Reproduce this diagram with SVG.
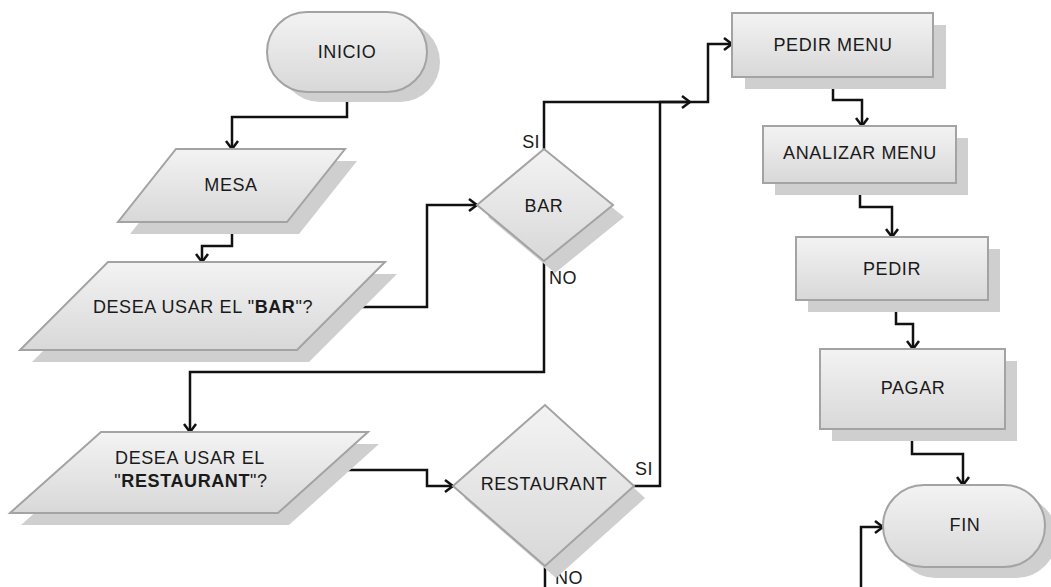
<svg xmlns="http://www.w3.org/2000/svg" width="1051" height="587" viewBox="0 0 1051 587">
  <style>
    .shape { fill: url(#g); stroke: #a3a3a3; stroke-width: 2; }
    .shadow { fill: #cfcfcf; stroke: none; }
    .t { font-family: "Liberation Sans", Arial, sans-serif; font-size: 18px; fill: #1a1a1a; text-anchor: middle; letter-spacing: 0.6px; }
    .lbl { font-family: "Liberation Sans", Arial, sans-serif; font-size: 18px; fill: #1a1a1a; letter-spacing: 0.4px; }
    .c { fill: none; stroke: #111; stroke-width: 2.5; stroke-linejoin: miter; }
    .a { marker-end: url(#arr); }
  </style>
  <defs>
    <linearGradient id="g" x1="0" y1="0" x2="0" y2="1">
      <stop offset="0" stop-color="#f3f3f3"/>
      <stop offset="1" stop-color="#d8d8d8"/>
    </linearGradient>
    <marker id="arr" viewBox="0 0 10 14" refX="9" refY="7" markerWidth="10" markerHeight="14" markerUnits="userSpaceOnUse" orient="auto">
      <path d="M1,1 L9,7 L1,13" fill="none" stroke="#111" stroke-width="2.5"/>
    </marker>
  </defs>

  <rect width="1051" height="587" fill="#ffffff"/>

  <g id="connectors">
    <path class="c a" d="M347,92 V117 H232 V149"/>
    <path class="c a" d="M232,222 V246 H202 V262"/>
    <path class="c a" d="M340,307 H427 V205 H477"/>
    <path class="c a" d="M544,149 V102 H708 V44 H732"/>
    <path class="c a" d="M544,261 V372 H190 V432"/>
    <path class="c a" d="M324,470 H427 V486 H453"/>
    <path class="c a" d="M634,486 H660 V102 H690"/>
    <path class="c" d="M545,566 V590"/>
    <path class="c a" d="M833,77 V100 H862 V126"/>
    <path class="c a" d="M860,183 V207 H892 V237"/>
    <path class="c a" d="M896,300 V324 H913 V349"/>
    <path class="c a" d="M912,429 V454 H963 V485"/>
    <path class="c a" d="M861,590 V527 H883"/>
    <text class="lbl" x="540" y="148" text-anchor="end">SI</text>
    <text class="lbl" x="549" y="284">NO</text>
    <text class="lbl" x="635" y="475">SI</text>
    <text class="lbl" x="555" y="584">NO</text>
  </g>

  <g id="inicio">
    <rect class="shadow" x="280" y="22" width="160" height="80" rx="40"/>
    <rect class="shape" x="267" y="12" width="160" height="80" rx="40"/>
    <text class="t" x="347" y="58">INICIO</text>
  </g>

  <g id="mesa">
    <polygon class="shadow" points="188,161 357,161 299,234 130,234"/>
    <polygon class="shape" points="176,149 345,149 287,222 118,222"/>
    <text class="t" x="231" y="191">MESA</text>
  </g>

  <g id="desea-bar">
    <polygon class="shadow" points="120,274 397,274 309,362 32,362"/>
    <polygon class="shape" points="108,262 385,262 297,350 20,350"/>
    <text class="t" x="203" y="313">DESEA USAR EL "<tspan font-weight="bold">BAR</tspan>"?</text>
  </g>

  <g id="bar">
    <polygon class="shadow" points="488,217 555,161 624,217 555,273"/>
    <polygon class="shape" points="477,205 544,149 613,205 544,261"/>
    <text class="t" x="544" y="212">BAR</text>
  </g>

  <g id="desea-restaurant">
    <polygon class="shadow" points="112,444 379,444 289,525 21,525"/>
    <polygon class="shape" points="101,432 368,432 278,513 10,513"/>
    <text class="t" x="190" y="464">DESEA USAR EL</text>
    <text class="t" x="191" y="487">"<tspan font-weight="bold">RESTAURANT</tspan>"?</text>
  </g>

  <g id="restaurant">
    <polygon class="shadow" points="464,498 556,417 645,498 556,578"/>
    <polygon class="shape" points="453,486 545,405 634,486 545,566"/>
    <text class="t" x="544" y="490">RESTAURANT</text>
  </g>

  <g id="pedir-menu">
    <rect class="shadow" x="745" y="25" width="201" height="64"/>
    <rect class="shape" x="732" y="13" width="201" height="64"/>
    <text class="t" x="833" y="51">PEDIR MENU</text>
  </g>

  <g id="analizar-menu">
    <rect class="shadow" x="775" y="138" width="193" height="57"/>
    <rect class="shape" x="763" y="126" width="193" height="57"/>
    <text class="t" x="860" y="159">ANALIZAR MENU</text>
  </g>

  <g id="pedir">
    <rect class="shadow" x="808" y="249" width="192" height="63"/>
    <rect class="shape" x="796" y="237" width="192" height="63"/>
    <text class="t" x="892" y="275">PEDIR</text>
  </g>

  <g id="pagar">
    <rect class="shadow" x="832" y="361" width="185" height="80"/>
    <rect class="shape" x="820" y="349" width="185" height="80"/>
    <text class="t" x="913" y="394">PAGAR</text>
  </g>

  <g id="fin">
    <rect class="shadow" x="895" y="496" width="162" height="82" rx="41"/>
    <rect class="shape" x="883" y="485" width="162" height="82" rx="41"/>
    <text class="t" x="965" y="531">FIN</text>
  </g>
</svg>
